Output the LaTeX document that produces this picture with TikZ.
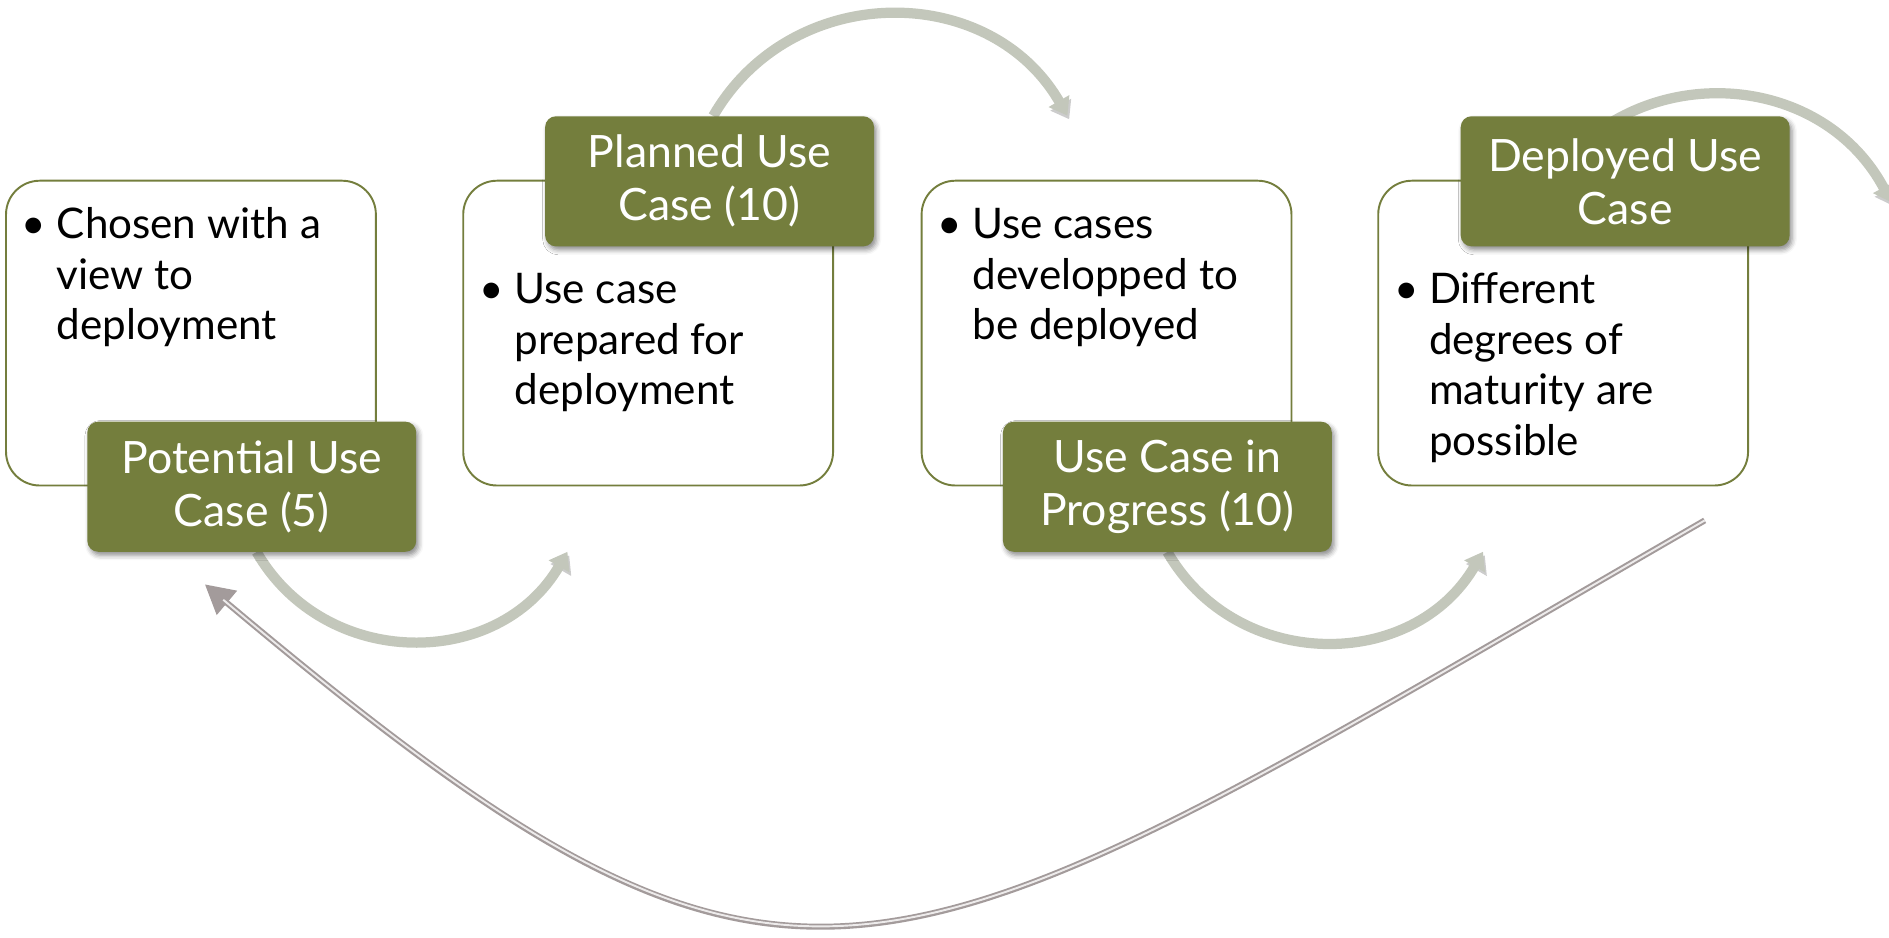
\documentclass[tikz,border=0pt]{standalone}
\usepackage{fontspec}
\setmainfont{Lato}
\usetikzlibrary{arrows.meta,shadows.blur,backgrounds}

\definecolor{olive}{RGB}{116,126,61}
\definecolor{arcgray}{RGB}{195,199,187}
\definecolor{loopgray}{RGB}{163,155,155}

\tikzset{
  card/.style={draw=olive, line width=1.6pt, rounded corners=28pt, fill=white,
    minimum width=307pt, minimum height=253pt},
  tag/.style={fill=olive, rounded corners=9pt, text=white, align=center,
    minimum width=273pt, minimum height=108pt, font=\fontsize{37}{44}\selectfont,
    blur shadow={shadow xshift=2pt, shadow yshift=-3pt, shadow opacity=45, shadow blur radius=4pt}},
  bullets/.style={align=left, anchor=base west, inner sep=0pt, font=\fontsize{35}{42}\selectfont},
  flow/.style={draw=arcgray, line width=8.5pt, -{Triangle[length=14pt,width=19pt]},
    preaction={draw=black!20, transform canvas={shift={(1.5pt,-3pt)}}}},
  backflow/.style={draw=loopgray!20, line width=1.6pt, shorten >=20pt,
    preaction={draw=loopgray, line width=5pt, shorten >=0pt, -{Triangle[length=24pt,width=25pt]}}}
}
\newcommand{\bul}{\llap{\makebox[29pt][l]{•}}}

\begin{document}
\begin{tikzpicture}[x=1pt,y=1pt]
  \useasboundingbox (0,0) rectangle (1568,-778);

  % the four stages
  \node[card](boxA) at (158.5,-276.5) {};
  \node[card](boxB) at (538,-276.5) {};
  \node[card](boxC) at (918.5,-276.5) {};
  \node[card](boxD) at (1297.5,-276.5) {};

  % text sits on the baseline of its last line
  \node[bullets](txtA) at (47,-282) {\bul Chosen with a\\view to\\deployment};
  \node[bullets](txtB) at (427,-336) {\bul Use case\\prepared for\\deployment};
  \node[bullets](txtC) at (807,-282) {\bul Use cases\\developped to\\be deployed};
  \node[bullets](txtD) at (1186,-378) {\bul Different\\degrees of\\maturity are\\possible};

  \node[tag](potential) at (209,-404) {Potential Use\\Case (5)};
  \node[tag](planned) at (589,-150.5) {Planned Use\\Case (10)};
  \node[tag](progress) at (969,-404) {Use Case in\\Progress (10)};
  \node[tag](deployed) at (1349,-150.5) {Deployed Use\\Case};

  % free ends of the arrows
  \coordinate (intoB) at (471,-458);
  \coordinate (intoC) at (886,-96);
  \coordinate (intoD) at (1231,-458);
  \coordinate (offpage) at (1570,-168);
  \coordinate (fromD) at (1415,-432);
  \coordinate (intoA) at (170,-485);

  \begin{scope}[on background layer]
    \draw[flow]([xshift=4pt]potential.south) to[out=-60,in=-120,looseness=1.13] (intoB);
    \draw[flow]([xshift=3pt]planned.north) to[out=60,in=120,looseness=1.13] (intoC);
    \draw[flow](progress.south) to[out=-60,in=-120,looseness=1.13] (intoD);
    \draw[flow]([shift={(-70pt,-11pt)}]deployed.center) to[out=60,in=118,looseness=1.15] (offpage);
    \draw[backflow](fromD) .. controls +(210:800) and +(-40:650) .. (intoA);
  \end{scope}
\end{tikzpicture}
\end{document}
